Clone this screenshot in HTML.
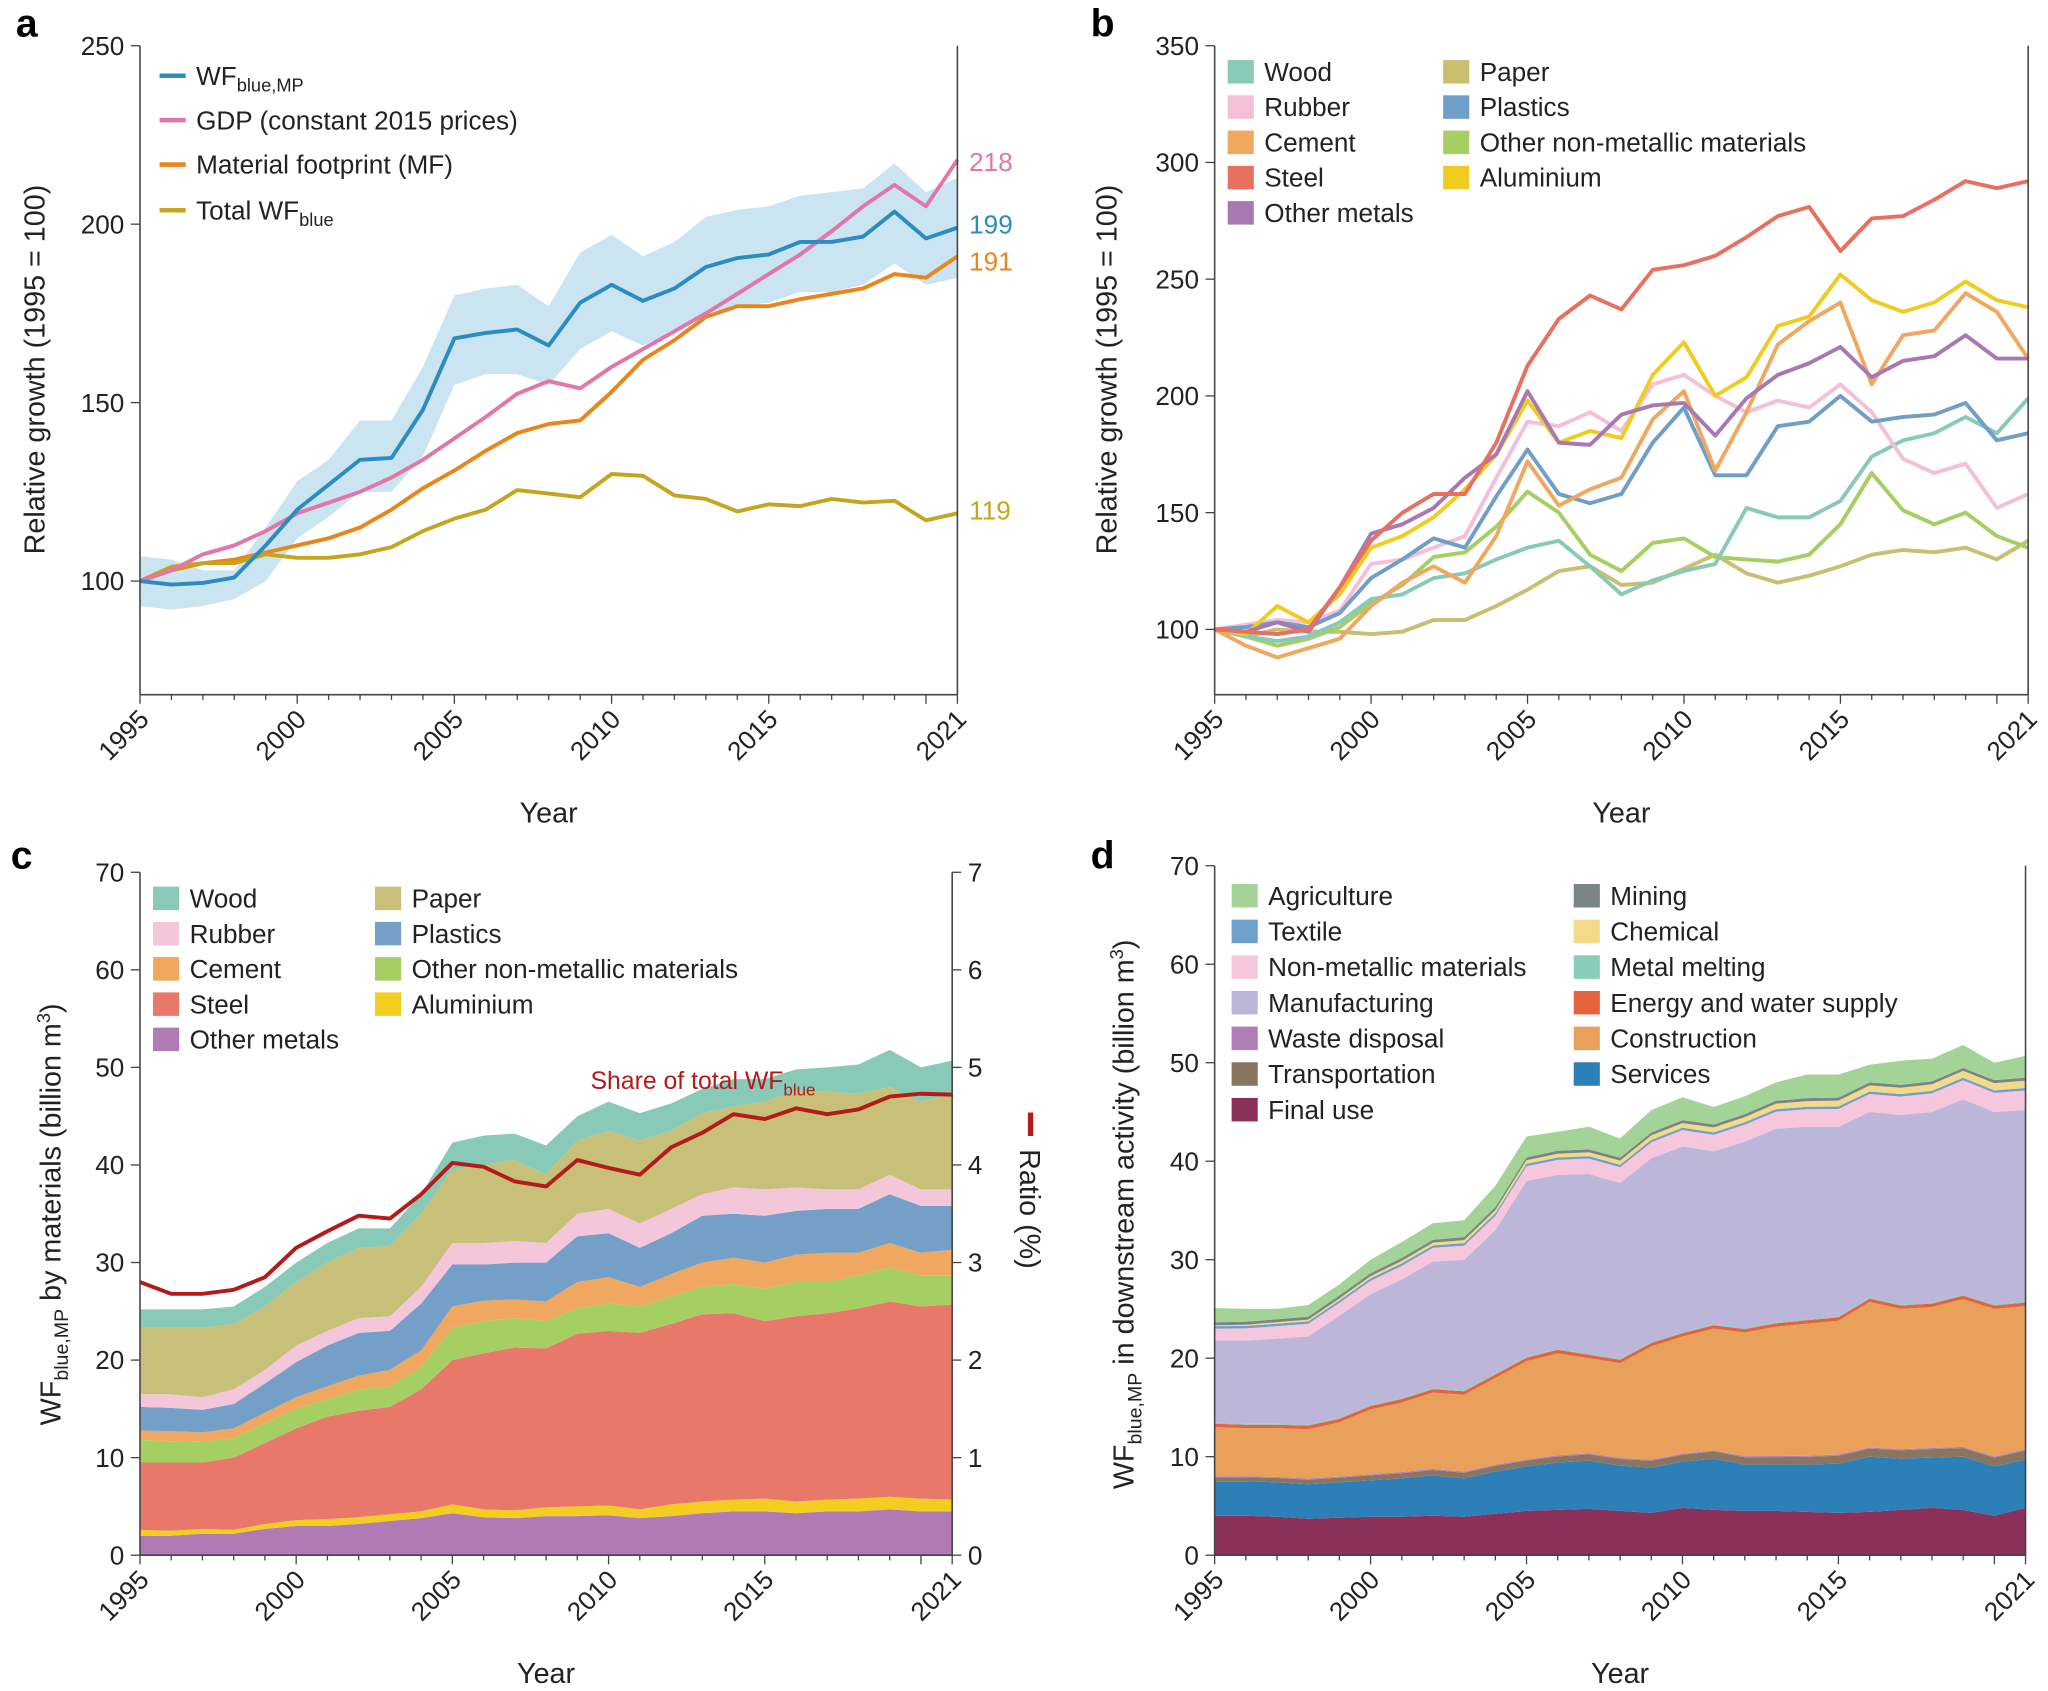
<!DOCTYPE html>
<html><head><meta charset="utf-8"><style>
html,body{margin:0;padding:0;background:#fff}
svg{display:block;font-family:"Liberation Sans",sans-serif}
</style></head><body>
<svg id="s" width="2048" height="1691" viewBox="0 0 1568 1295" xmlns="http://www.w3.org/2000/svg"></svg>
<script>
const S=document.getElementById('s');let h='';
function P(x0,x1,yb,vb,yt,vt,bottom){return{x0,x1,yb,vb,yt,vt,bottom}}
const A=P(107,733,445,100,35,250,532),B=P(930,1553,482,100,35,350,532),C=P(107,729,1191,0,668,70,1191),D=P(930,1551,1191,0,663,70,1191);
const X=(p,i)=>p.x0+i*(p.x1-p.x0)/26, Y=(p,v)=>p.yb-(v-p.vb)*(p.yb-p.yt)/(p.vt-p.vb);
function line(p,d,c,w){h+=`<polyline fill="none" stroke="${c}" stroke-width="${w||3}" stroke-linejoin="round" points="${d.map((v,i)=>X(p,i).toFixed(1)+','+Y(p,v).toFixed(1)).join(' ')}"/>`}
function area(p,lo,hi,c){let pts=hi.map((v,i)=>X(p,i).toFixed(1)+','+Y(p,v).toFixed(1));for(let i=26;i>=0;i--)pts.push(X(p,i).toFixed(1)+','+Y(p,lo?lo[i]:p.vb).toFixed(1));h+=`<polygon fill="${c}" points="${pts.join(' ')}"/>`}
function axes(p,ticks,right){const ax='#444';
h+=`<line x1="${p.x0}" y1="${p.yt}" x2="${p.x0}" y2="${p.bottom}" stroke="${ax}" stroke-width="1.2"/>`;
h+=`<line x1="${p.x1}" y1="${p.yt}" x2="${p.x1}" y2="${p.bottom}" stroke="${ax}" stroke-width="1.2"/>`;
h+=`<line x1="${p.x0}" y1="${p.bottom}" x2="${p.x1}" y2="${p.bottom}" stroke="${ax}" stroke-width="1.2"/>`;
ticks.forEach(v=>{const y=Y(p,v);h+=`<line x1="${p.x0-7}" y1="${y}" x2="${p.x0}" y2="${y}" stroke="${ax}"/><text x="${p.x0-12}" y="${y+7}" font-size="20" text-anchor="end" fill="#222">${v}</text>`});
if(right)right.forEach(v=>{const y=Y(p,v*10);h+=`<line x1="${p.x1}" y1="${y}" x2="${p.x1+7}" y2="${y}" stroke="${ax}"/><text x="${p.x1+12}" y="${y+7}" font-size="20" fill="#222">${v}</text>`});
for(let i=0;i<=26;i++){const x=X(p,i);h+=`<line x1="${x}" y1="${p.bottom}" x2="${x}" y2="${p.bottom+(i%5==0||i==26?7:4)}" stroke="${ax}"/>`}
[0,5,10,15,20,26].forEach(i=>{const x=X(p,i);h+=`<text transform="translate(${x+8},${p.bottom+20}) rotate(-45)" font-size="20" text-anchor="end" fill="#222">${1995+i}</text>`});
h+=`<text x="${(p.x0+p.x1)/2}" y="${p.bottom+98}" font-size="22" text-anchor="middle" fill="#222">Year</text>`}
function sq(x,y,c,t){h+=`<rect x="${x}" y="${y-9}" width="20" height="18" fill="${c}"/><text x="${x+28}" y="${y+7}" font-size="20" fill="#222">${t}</text>`}
// Panel a
const up=[107,106,103,103,115,128,134,145,145,160,180,182,183,177,192,197,191,195,202,204,205,208,209,210,217,209,213],lo=[93,92,93,95,100,112,118,125,125,135,155,158,158,155,165,170,166,170,175,177,178,181,181,183,189,183,185];
area(A,lo,up,'#cbe4f1');
line(A,[100,103,105,106,108,110,112,115,120,126,131,136.5,141.5,144,145,153,162,167.5,174,177,177,179,180.5,182,186,185,191],'#e8861c');
line(A,[100,104,105,105,107.5,106.5,106.5,107.5,109.5,114,117.5,120,125.5,124.5,123.5,130,129.5,124,123,119.5,121.5,121,123,122,122.5,117,119],'#c5a520');
line(A,[100,103,107.5,110,114,119,122,125,129,134,140,146,152.5,156,154,160,165,170,175,180.5,186,191.5,198,205,211,205,218],'#e077a8');
line(A,[100,99,99.5,101,110,120,127,134,134.5,148,168,169.5,170.5,166,178,183,178.5,182,188,190.5,191.5,195,195,196.5,203.5,196,199],'#2a8cbf');
axes(A,[100,150,200,250]);
[['#2a8cbf','WF<tspan font-size="14" dy="5">blue,MP</tspan>',58],['#e077a8','GDP (constant 2015 prices)',92],['#e8861c','Material footprint (MF)',126],['#c5a520','Total WF<tspan font-size="14" dy="5">blue</tspan>',161]].forEach(([c,t,y])=>{h+=`<line x1="122" y1="${y}" x2="142" y2="${y}" stroke="${c}" stroke-width="3.5"/><text x="150" y="${y+7}" font-size="20" fill="#222">${t}</text>`});
[['218',124,'#e077a8'],['199',172,'#2a8cbf'],['191',200,'#e8861c'],['119',391,'#c5a520']].forEach(([t,y,c])=>h+=`<text x="742" y="${y+7}" font-size="20" fill="${c}">${t}</text>`);
// Panel b
const bd=[
['#c9bf70',[100,97,100,99,99,98,99,104,104,110,117,125,127,119,120,126,132,124,120,123,127,132,134,133,135,130,138]],
['#a5cf62',[100,97,93,96,101,111,119,131,133,144,159,150,132,125,137,139,131,130,129,132,145,167,151,145,150,140,135]],
['#88c9b8',[100,97,95,97,103,113,115,122,124,130,135,138,127,115,121,125,128,152,148,148,155,174,181,184,191,184,199]],
['#f3c0d8',[100,102,104,103,108,128,130,135,140,165,189,187,193,185,205,209,200,193,198,195,205,193,173,167,171,152,158]],
['#6f9ec8',[100,101,103,101,107,122,130,139,135,157,177,158,154,158,180,195,166,166,187,189,200,189,191,192,197,181,184]],
['#f0a860',[100,93,88,92,96,110,120,127,120,140,172,153,160,165,190,202,168,193,222,232,240,205,226,228,244,236,216]],
['#f0cc20',[100,98,110,103,115,135,140,148,160,175,198,180,185,182,209,223,200,208,230,234,252,241,236,240,249,241,238]],
['#a878b2',[100,99,103,99,118,141,145,152,165,175,202,180,179,192,196,197,183,199,209,214,221,208,215,217,226,216,216]],
['#e87060',[100,99,98,100,118,138,150,158,158,180,213,233,243,237,254,256,260,268,277,281,262,276,277,284,292,289,292]]];
bd.forEach(([c,d])=>line(B,d,c,3));
axes(B,[100,150,200,250,300,350]);
[['#88c9b8','Wood'],['#f3c0d8','Rubber'],['#f0a860','Cement'],['#e87060','Steel'],['#a878b2','Other metals']].forEach(([c,t],i)=>sq(940,55+i*27,c,t));
[['#c9bf70','Paper'],['#6f9ec8','Plastics'],['#a5cf62','Other non-metallic materials'],['#f0cc20','Aluminium']].forEach(([c,t],i)=>sq(1105,55+i*27,c,t));
// Panel c
const cl=[
['#b07ab5',[2,2,2.2,2.2,2.7,3,3,3.2,3.5,3.8,4.3,3.9,3.8,4,4,4.1,3.8,4,4.3,4.5,4.5,4.3,4.5,4.5,4.7,4.5,4.5]],
['#f3cd22',[2.6,2.5,2.7,2.6,3.2,3.6,3.7,3.9,4.2,4.5,5.2,4.7,4.6,4.9,5,5.1,4.7,5.2,5.5,5.7,5.8,5.5,5.7,5.8,6,5.8,5.7]],
['#e8796a',[9.5,9.5,9.5,10,11.5,13,14.2,14.8,15.2,17,20,20.7,21.3,21.2,22.7,23,22.8,23.7,24.7,24.8,24,24.5,24.8,25.3,26,25.5,25.7]],
['#a5cf62',[11.8,11.7,11.6,12,13.5,15,16,17,17.3,19.3,23.3,24,24.3,24,25.3,25.8,25.5,26.5,27.5,27.8,27.3,28,28,28.7,29.5,28.7,28.7]],
['#f0a860',[12.8,12.7,12.6,13,14.6,16.2,17.3,18.4,19,21,25.5,26.1,26.2,26,28,28.5,27.5,28.8,30,30.5,30,30.8,31,31,32,31,31.3]],
['#74a0c8',[15.2,15.1,14.9,15.5,17.6,19.8,21.5,22.8,23,25.8,29.8,29.8,30,30,32.7,33,31.5,33,34.8,35,34.8,35.3,35.5,35.5,37,35.8,35.8]],
['#f3c6da',[16.5,16.5,16.2,17,19,21.5,23,24.3,24.5,27.5,32,32,32.2,32,35,35.5,34,35.5,37,37.7,37.5,37.7,37.5,37.5,39,37.5,37.5]],
['#c8bf78',[23.3,23.3,23.3,23.7,25.5,28,30,31.5,31.7,35,39.5,40,40.5,39,42.5,43.5,42.5,43.5,45.3,46,46.5,47.5,47.5,47.3,48,46.5,47.2]],
['#88c9b8',[25.2,25.2,25.2,25.5,27.5,30,32,33.5,33.5,37,42.3,43,43.2,42,45,46.5,45.3,46.3,47.8,48.8,48.8,49.8,50,50.3,51.8,50,50.7]]];
cl.forEach(([c,d],k)=>area(C,k?cl[k-1][1]:null,d,c));
line(C,[2.8,2.68,2.68,2.72,2.85,3.15,3.32,3.48,3.45,3.7,4.02,3.98,3.83,3.78,4.05,3.97,3.9,4.18,4.33,4.52,4.47,4.58,4.52,4.57,4.7,4.73,4.72].map(v=>v*10),'#b31b1b',3);
axes(C,[0,10,20,30,40,50,60,70],[0,1,2,3,4,5,6,7]);
[['#88c9b8','Wood'],['#f3c6da','Rubber'],['#f0a860','Cement'],['#e8796a','Steel'],['#b07ab5','Other metals']].forEach(([c,t],i)=>sq(117,688+i*27,c,t));
[['#c8bf78','Paper'],['#74a0c8','Plastics'],['#a5cf62','Other non-metallic materials'],['#f3cd22','Aluminium']].forEach(([c,t],i)=>sq(287,688+i*27,c,t));
h+=`<text x="452" y="834" font-size="19" fill="#b31b1b">Share of total WF<tspan font-size="13" dy="5">blue</tspan></text>`;
h+=`<line x1="789" y1="852" x2="789" y2="870" stroke="#b31b1b" stroke-width="4"/><text transform="translate(781,880) rotate(90)" font-size="22" fill="#222">Ratio (%)</text>`;
h+=`<text transform="translate(46,930) rotate(-90)" font-size="22" text-anchor="middle" fill="#222">WF<tspan font-size="15" dy="6">blue,MP</tspan><tspan dy="-6"> by materials (billion m</tspan><tspan font-size="14" dy="-8">3</tspan><tspan dy="8">)</tspan></text>`;
// Panel d
const fu=[4,4,3.9,3.7,3.8,3.9,3.9,4,3.9,4.2,4.5,4.6,4.7,4.5,4.3,4.8,4.6,4.5,4.5,4.4,4.3,4.4,4.6,4.8,4.6,4,4.8];
const sv=[7.5,7.5,7.4,7.2,7.4,7.6,7.8,8.1,7.8,8.5,9,9.4,9.6,9.1,8.9,9.5,9.8,9.2,9.2,9.2,9.3,10,9.8,9.9,10,9,9.7];
const tr=sv.map((v,i)=>v+0.4+i*0.02);const wd=tr.map(v=>v+0.12);
const co=[13,12.9,12.9,12.8,13.5,14.8,15.5,16.5,16.3,18,19.7,20.5,20,19.5,21.2,22.2,23,22.6,23.2,23.5,23.8,25.7,25,25.2,26,25,25.3];
const en=co.map(v=>v+0.35),mm=en.map(v=>v+0.1);
const mf=[21.8,21.8,22,22.2,24.3,26.5,28,29.8,30,33,38,38.6,38.7,37.8,40.3,41.5,41,42,43.3,43.5,43.5,45,44.7,45,46.3,45,45.2];
const nm=mf.map((v,i)=>v+1.2+i*0.03),tx=nm.map(v=>v+0.25),ch=tx.map((v,i)=>v+0.1+i*0.025),mi=ch.map(v=>v+0.3);
const ag=[25.1,25,25,25.4,27.5,30,31.8,33.7,34,37.5,42.5,43,43.5,42.3,45.2,46.5,45.5,46.6,48,48.8,48.8,49.8,50.2,50.4,51.8,50,50.7];
const dl=[[null,fu,'#8b3058'],[fu,sv,'#2d7fb8'],[sv,tr,'#8a7560'],[tr,wd,'#b07db8'],[wd,co,'#e9a05a'],[co,en,'#e3633f'],[en,mm,'#87cdb9'],[mm,mf,'#bcb6da'],[mf,nm,'#f5c6dc'],[nm,tx,'#6fa0c9'],[tx,ch,'#f3d98a'],[ch,mi,'#7b8585'],[mi,ag,'#a3d396']];
dl.forEach(([a,b,c])=>area(D,a,b,c));
axes(D,[0,10,20,30,40,50,60,70]);
[['#a3d396','Agriculture'],['#6fa0c9','Textile'],['#f5c6dc','Non-metallic materials'],['#bcb6da','Manufacturing'],['#b07db8','Waste disposal'],['#8a7560','Transportation'],['#8b3058','Final use']].forEach(([c,t],i)=>sq(943,686+i*27.3,c,t));
[['#7b8585','Mining'],['#f3d98a','Chemical'],['#87cdb9','Metal melting'],['#e3633f','Energy and water supply'],['#e9a05a','Construction'],['#2d7fb8','Services']].forEach(([c,t],i)=>sq(1205,686+i*27.3,c,t));
h+=`<text transform="translate(868,930) rotate(-90)" font-size="22" text-anchor="middle" fill="#222">WF<tspan font-size="15" dy="6">blue,MP</tspan><tspan dy="-6"> in downstream activity (billion m</tspan><tspan font-size="14" dy="-8">3</tspan><tspan dy="8">)</tspan></text>`;
h+=`<text transform="translate(34,283) rotate(-90)" font-size="22" text-anchor="middle" fill="#222">Relative growth (1995 = 100)</text>`;
h+=`<text transform="translate(855,283) rotate(-90)" font-size="22" text-anchor="middle" fill="#222">Relative growth (1995 = 100)</text>`;
[['a',12,28],['b',835,28],['c',8,665],['d',835,665]].forEach(([t,x,y])=>h+=`<text x="${x}" y="${y}" font-size="30" font-weight="bold" fill="#000">${t}</text>`);
S.innerHTML=h;
</script>
</body></html>
